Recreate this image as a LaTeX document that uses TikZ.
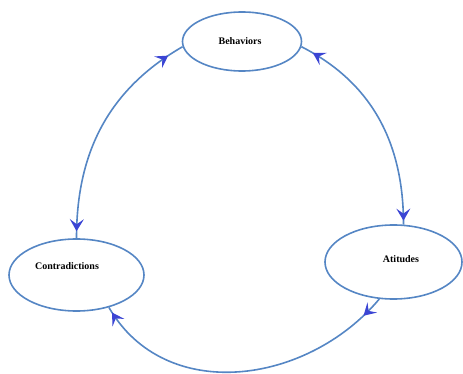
\documentclass[tikz,border=0pt]{standalone}
\usepackage{fontspec}
\setmainfont{Liberation Serif}
\definecolor{CYCblue}{HTML}{5586C4}
\definecolor{CYCtip}{HTML}{3B45D4}
\usetikzlibrary{shapes.geometric, decorations.markings, arrows.meta}

\begin{document}
\begin{tikzpicture}[x=1pt, y=1pt,
   stage/.style={ellipse, draw=CYCblue, line width=1.6pt, inner sep=0pt},
   stagetext/.style={font=\fontsize{10}{12}\selectfont\bfseries, text=black},
   link/.style={CYCblue, line width=1.6pt},
   tipfwd/.style={postaction={decorate, decoration={markings,
      mark=at position #1 with {\arrow[CYCtip]{Stealth[length=12pt,width=14pt,inset=5pt]}}}}},
   tipback/.style={postaction={decorate, decoration={markings,
      mark=at position #1 with {\arrowreversed[CYCtip]{Stealth[length=12pt,width=14pt,inset=5pt]}}}}}
]
   \useasboundingbox (0,0) rectangle (463,-374);
   % Stages
   \node[stage, minimum width=119pt, minimum height=59pt] (beh) at (242,-41.5) {};
   \node[stage, minimum width=135pt, minimum height=72pt] (con) at (76.5,-275) {};
   \node[stage, minimum width=137pt, minimum height=74pt] (ati) at (393.5,-262) {};
   \node[stagetext] (behtxt) at (240,-41) {Behaviors};
   \node[stagetext] (contxt) at (67,-266) {Contradictions};
   \node[stagetext] (atitxt) at (401,-259) {Atitudes};
   % Behaviors <-> Contradictions
   \draw[link, tipback=17pt, tipfwd=-7pt] (beh.185) to[out=210, in=90] (con.90);
   % Behaviors <-> Atitudes
   \draw[link, tipback=13pt, tipfwd=-4pt] (beh.355) to[out=-27, in=90] (ati.75);
   % Atitudes -> Contradictions
   \draw[link, tipfwd=23pt, tipfwd=-6pt] (ati.249) to[out=230, in=-60, looseness=1.06] (con.315);
\end{tikzpicture}
\end{document}
